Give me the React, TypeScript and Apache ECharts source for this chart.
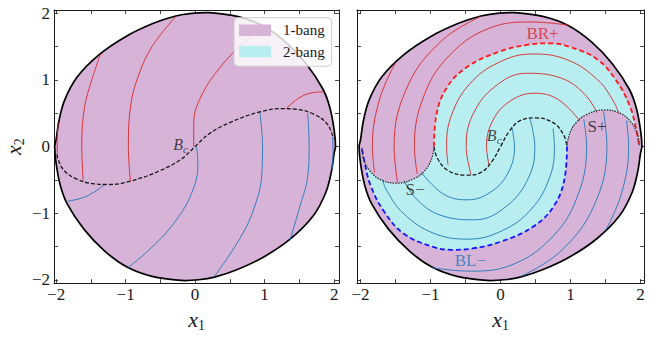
import React, { useEffect, useRef } from 'react';
import * as echarts from 'echarts';

const FONT = "'Liberation Serif', 'DejaVu Serif', serif";
const PURPLE = '#d8b3d8';
const CYAN = '#b8eef0';
const RED = '#d62728';
const BLUE = '#1f77b4';
const BRIGHT_RED = '#ff1a1a';
const BRIGHT_BLUE = '#1414ff';
const INK = '#1a1a1a';

const TICK_VALUES = [-2, -1.5, -1, -0.5, 0, 0.5, 1, 1.5, 2];
const TICK_LABELS = [-2, -1, 0, 1, 2];
const LEGEND_NAMES = ['1-bang', '2-bang'];

// reachable-set boundary (same in both panels)
const boundary = [
  [2.02, 0.0], [2.0, 0.25], [1.94, 0.58], [1.84, 0.86], [1.6, 1.24], [1.3, 1.57], [0.98, 1.81],
  [0.62, 1.95], [0.2, 2.01], [-0.05, 2.0], [-0.28, 1.96], [-0.6, 1.85], [-1.0, 1.65], [-1.38, 1.38],
  [-1.7, 1.04], [-1.88, 0.69], [-1.96, 0.38], [-2.0, 0.1], [-2.02, 0.0], [-2.0, -0.25], [-1.94, -0.58],
  [-1.84, -0.86], [-1.6, -1.24], [-1.3, -1.57], [-0.98, -1.81], [-0.62, -1.95], [-0.2, -2.01],
  [0.05, -2.0], [0.28, -1.96], [0.6, -1.85], [1.0, -1.65], [1.38, -1.38], [1.7, -1.04], [1.88, -0.69],
  [1.96, -0.38], [2.0, -0.1],
];

// left panel
const bcLeft = [
  [-1.99, -0.12], [-1.9, -0.34], [-1.7, -0.49], [-1.45, -0.56], [-1.25, -0.57], [-0.93, -0.52],
  [-0.5, -0.36], [-0.2, -0.19], [0, 0], [0.2, 0.19], [0.5, 0.36], [0.93, 0.52], [1.25, 0.57],
  [1.45, 0.56], [1.7, 0.49], [1.9, 0.34], [1.99, 0.12],
];
const leftRed = [
  [[-1.98, -0.14], [-1.985, 0.1], [-1.97, 0.36]],
  [[-1.61, -0.51], [-1.63, 0.0], [-1.59, 0.59], [-1.48, 1.02], [-1.36, 1.39]],
  [[-0.93, -0.52], [-0.96, 0.0], [-0.93, 0.59], [-0.83, 1.02], [-0.62, 1.5], [-0.28, 1.95]],
  [[-0.02, 0.0], [-0.02, 0.35], [0.09, 0.76], [0.36, 1.19], [0.68, 1.54], [0.98, 1.81]],
  [[1.31, 0.57], [1.51, 0.74], [1.7, 0.81], [1.84, 0.82]],
];
const leftBlue = [
  [[1.98, 0.14], [1.985, -0.1], [1.97, -0.36]],
  [[1.62, 0.5], [1.64, 0.0], [1.62, -0.45], [1.51, -0.89], [1.36, -1.42]],
  [[0.93, 0.52], [0.97, 0.0], [0.96, -0.41], [0.86, -0.89], [0.65, -1.37], [0.27, -1.96]],
  [[0.02, 0.0], [0.04, -0.27], [-0.05, -0.7], [-0.29, -1.13], [-0.62, -1.51], [-0.98, -1.83]],
  [[-1.31, -0.58], [-1.57, -0.75], [-1.83, -0.82]],
];

// right panel
const bcRight = [
  [-0.95, 0.0], [-0.9, -0.18], [-0.75, -0.36], [-0.5, -0.43], [-0.28, -0.39], [-0.12, -0.22], [0, 0],
  [0.12, 0.22], [0.28, 0.39], [0.5, 0.43], [0.75, 0.36], [0.9, 0.18], [0.95, 0.0],
];
const brPlus = [
  [-0.95, 0.0], [-0.92, 0.45], [-0.77, 0.88], [-0.47, 1.2], [0.0, 1.43], [0.4, 1.53], [0.7, 1.55],
  [0.98, 1.5], [1.38, 1.31], [1.66, 0.98], [1.85, 0.6], [1.94, 0.25], [1.98, 0.02],
];
const blMinus = [
  [0.95, 0.0], [0.92, -0.45], [0.77, -0.88], [0.47, -1.2], [0.0, -1.43], [-0.4, -1.53], [-0.7, -1.55],
  [-0.98, -1.5], [-1.38, -1.31], [-1.66, -0.98], [-1.85, -0.6], [-1.94, -0.25], [-1.98, -0.02],
];
const sPlus = [
  [0.95, 0.02], [0.99, 0.2], [1.08, 0.36], [1.23, 0.48], [1.47, 0.55], [1.71, 0.5], [1.87, 0.36],
  [1.95, 0.2], [1.98, 0.03],
];
const sMinus = [
  [-1.98, -0.03], [-1.95, -0.2], [-1.87, -0.36], [-1.71, -0.5], [-1.47, -0.55], [-1.23, -0.48],
  [-1.08, -0.36], [-0.99, -0.2], [-0.95, -0.02],
];
const rightRed = [
  [[-0.75, -0.27], [-0.77, 0.0], [-0.7, 0.47], [-0.44, 0.94], [-0.03, 1.26], [0.46, 1.39], [0.96, 1.3], [1.39, 1.0], [1.62, 0.67], [1.69, 0.49]],
  [[-0.42, -0.42], [-0.49, 0.0], [-0.4, 0.47], [-0.08, 0.9], [0.37, 1.1], [0.86, 1.03], [1.19, 0.8], [1.38, 0.51]],
  [[-0.16, -0.29], [-0.2, 0.0], [-0.1, 0.41], [0.15, 0.69], [0.48, 0.8], [0.82, 0.71], [1.13, 0.39]],
  [[-1.19, -0.41], [-1.23, 0.0], [-1.08, 0.8], [-0.7, 1.4], [-0.15, 1.78], [0.45, 1.87], [0.98, 1.82]],
  [[-1.47, -0.54], [-1.52, 0.0], [-1.33, 0.9], [-0.85, 1.58], [-0.29, 1.95]],
  [[-1.8, -0.39], [-1.83, 0.0], [-1.73, 0.7], [-1.5, 1.26]],
];
const rightBlue = [
  [[0.75, 0.27], [0.77, 0.0], [0.7, -0.47], [0.44, -0.94], [0.03, -1.26], [-0.46, -1.39], [-0.96, -1.3], [-1.39, -1.0], [-1.62, -0.67], [-1.69, -0.49]],
  [[0.42, 0.42], [0.49, 0.0], [0.4, -0.47], [0.08, -0.9], [-0.37, -1.1], [-0.86, -1.03], [-1.19, -0.8], [-1.38, -0.51]],
  [[0.16, 0.29], [0.2, 0.0], [0.1, -0.41], [-0.15, -0.69], [-0.48, -0.8], [-0.82, -0.71], [-1.13, -0.39]],
  [[1.19, 0.41], [1.23, 0.0], [1.08, -0.8], [0.7, -1.4], [0.15, -1.78], [-0.45, -1.87], [-0.98, -1.82]],
  [[1.47, 0.54], [1.52, 0.0], [1.33, -0.9], [0.85, -1.58], [0.29, -1.95]],
  [[1.8, 0.39], [1.83, 0.0], [1.73, -0.7], [1.5, -1.26]],
];

// annotations: [x, y, text, color]
const leftNotes: [number, number, string, string][] = [[-0.21, 0.03, '{b|B}{s|c}', INK]];
const rightNotes: [number, number, string, string][] = [
  [-0.09, 0.17, '{b|B}{s|c}', INK],
  [0.6, 1.7, '{t|BR+}', RED],
  [1.38, 0.3, '{t|S+}', INK],
  [-1.22, -0.65, '{t|S−}', INK],
  [-0.43, -1.71, '{t|BL−}', BLUE],
];

const fmt = (v: number) => String(v).replace('-', '−');

function xAxes(gridIndex: number, min: number, max: number) {
  const common = {
    gridIndex, type: 'value', min, max,
    axisLine: { show: true, onZero: false, lineStyle: { color: INK, width: 1 } },
    axisTick: { show: true, inside: true, length: 4, customValues: TICK_VALUES, lineStyle: { color: INK, width: 0.8 } },
    splitLine: { show: false },
  };
  return [
    {
      ...common, position: 'bottom',
      axisLabel: { show: true, customValues: TICK_LABELS, formatter: fmt, fontFamily: FONT, fontSize: 17, color: INK, margin: 3 },
      name: '{x|x}{s|1}', nameLocation: 'middle', nameGap: 18,
      nameTextStyle: {
        color: INK, fontFamily: FONT,
        rich: {
          x: { fontFamily: FONT, fontStyle: 'italic', fontSize: 22, lineHeight: 26, color: INK },
          s: { fontFamily: FONT, fontSize: 14, lineHeight: 14, verticalAlign: 'bottom', color: INK },
        },
      },
    },
    { ...common, position: 'top', axisLabel: { show: false } },
  ];
}

function yAxes(gridIndex: number, labels: boolean) {
  const common = {
    gridIndex, type: 'value', min: -2.05, max: 2.05,
    axisLine: { show: true, onZero: false, lineStyle: { color: INK, width: 1 } },
    axisTick: { show: true, inside: true, length: 4, customValues: TICK_VALUES, lineStyle: { color: INK, width: 0.8 } },
    splitLine: { show: false },
  };
  const left: any = {
    ...common, position: 'left',
    axisLabel: { show: labels, customValues: TICK_LABELS, formatter: fmt, fontFamily: FONT, fontSize: 17, color: INK, margin: 4 },
  };
  if (labels) {
    Object.assign(left, {
      name: '{x|x}{s|2}', nameLocation: 'middle', nameGap: 28, nameRotate: 90,
      nameTextStyle: {
        color: INK, fontFamily: FONT,
        rich: {
          x: { fontFamily: FONT, fontStyle: 'italic', fontSize: 22, lineHeight: 26, color: INK },
          s: { fontFamily: FONT, fontSize: 14, lineHeight: 14, verticalAlign: 'bottom', color: INK },
        },
      },
    });
  }
  return [left, { ...common, position: 'right', axisLabel: { show: false } }];
}

function polygonSeries(name: string, axis: number, points: number[][], fill: string, stroke: string | null, z: number) {
  return {
    type: 'custom', name, xAxisIndex: axis, yAxisIndex: axis, coordinateSystem: 'cartesian2d',
    data: [[0, 0]], silent: true, z, itemStyle: { color: fill },
    renderItem: (_params: any, api: any) => ({
      type: 'polygon',
      shape: { points: points.map((p) => api.coord(p)), smooth: 0.35 },
      style: { fill, stroke: stroke || 'none', lineWidth: stroke ? 1.7 : 0 },
    }),
  };
}

function lineSeries(data: number[][], axis: number, color: string, width: number, type: any, z: number, cap = 'butt') {
  return {
    type: 'line', xAxisIndex: axis, yAxisIndex: axis, data, smooth: 0.4, symbol: 'none', showSymbol: false,
    lineStyle: { color, width, type, cap }, silent: true, z, clip: false,
  };
}

function noteSeries(axis: number, notes: [number, number, string, string][]) {
  return {
    type: 'scatter', xAxisIndex: axis, yAxisIndex: axis, symbolSize: 0, silent: true, z: 6,
    data: notes.map(([x, y, text, color]) => ({
      value: [x, y],
      label: {
        show: true, position: 'inside', formatter: text, fontFamily: FONT,
        rich: {
          b: { fontFamily: FONT, fontStyle: 'italic', fontSize: 16, lineHeight: 20, color },
          s: { fontFamily: FONT, fontStyle: 'italic', fontSize: 11, lineHeight: 11, verticalAlign: 'bottom', color },
          t: { fontFamily: FONT, fontSize: 17, lineHeight: 20, color },
        },
      },
    })),
  };
}

export default function App() {
  const ref = useRef<HTMLDivElement>(null);
  useEffect(() => {
    if (!ref.current) return;
    const chart = echarts.init(ref.current, null, { renderer: 'svg' });
    const cyanRegion = [...brPlus, ...[...sPlus].reverse(), ...blMinus, ...sMinus];
    const series: any[] = [
      polygonSeries(LEGEND_NAMES[0], 0, boundary, PURPLE, '#000', 1),
      ...leftRed.map((c) => lineSeries(c, 0, RED, 0.9, 'solid', 3)),
      ...leftBlue.map((c) => lineSeries(c, 0, BLUE, 0.9, 'solid', 3)),
      lineSeries(bcLeft, 0, INK, 1.3, [4, 2], 4),
      noteSeries(0, leftNotes),

      polygonSeries(LEGEND_NAMES[0], 2, boundary, PURPLE, '#000', 1),
      polygonSeries(LEGEND_NAMES[1], 2, cyanRegion, CYAN, null, 2),
      ...rightRed.map((c) => lineSeries(c, 2, RED, 0.9, 'solid', 3)),
      ...rightBlue.map((c) => lineSeries(c, 2, BLUE, 0.9, 'solid', 3)),
      lineSeries(bcRight, 2, INK, 1.3, [4, 2], 4),
      lineSeries(brPlus, 2, BRIGHT_RED, 1.8, [5, 3], 4),
      lineSeries(blMinus, 2, BRIGHT_BLUE, 1.8, [5, 3], 4),
      lineSeries(sPlus, 2, '#333', 1.4, [0.4, 2.3], 4, 'round'),
      lineSeries(sMinus, 2, '#333', 1.4, [0.4, 2.3], 4, 'round'),
      noteSeries(2, rightNotes),
    ];
    chart.setOption({
      animation: false,
      backgroundColor: '#ffffff',
      textStyle: { fontFamily: FONT },
      grid: [
        { left: 54, top: 10, width: 285, height: 288 },
        { left: 357, top: 10, width: 287, height: 288 },
      ],
      xAxis: [...xAxes(0, -2.03, 2.07), ...xAxes(1, -2.05, 2.05)],
      yAxis: [...yAxes(0, true), ...yAxes(1, false)],
      legend: {
        show: true,
        data: [
          { name: LEGEND_NAMES[0], icon: 'rect', itemStyle: { color: PURPLE, borderWidth: 0 } },
          { name: LEGEND_NAMES[1], icon: 'rect', itemStyle: { color: CYAN, borderWidth: 0 } },
        ],
        orient: 'vertical', left: 234, top: 17.7, itemWidth: 32, itemHeight: 11.5, itemGap: 4.5,
        padding: [4, 7, 6, 5], backgroundColor: 'rgba(255,255,255,0.8)', borderColor: '#cccccc',
        borderWidth: 1, borderRadius: 4, selectedMode: false,
        textStyle: { fontFamily: FONT, fontSize: 15, color: INK, lineHeight: 17, padding: [0, 0, 0, 7] },
      },
      series,
    });
    return () => chart.dispose();
  }, []);
  return <div ref={ref} style={{ position: 'fixed', left: 0, top: 0, width: 650, height: 337 }} />;
}
